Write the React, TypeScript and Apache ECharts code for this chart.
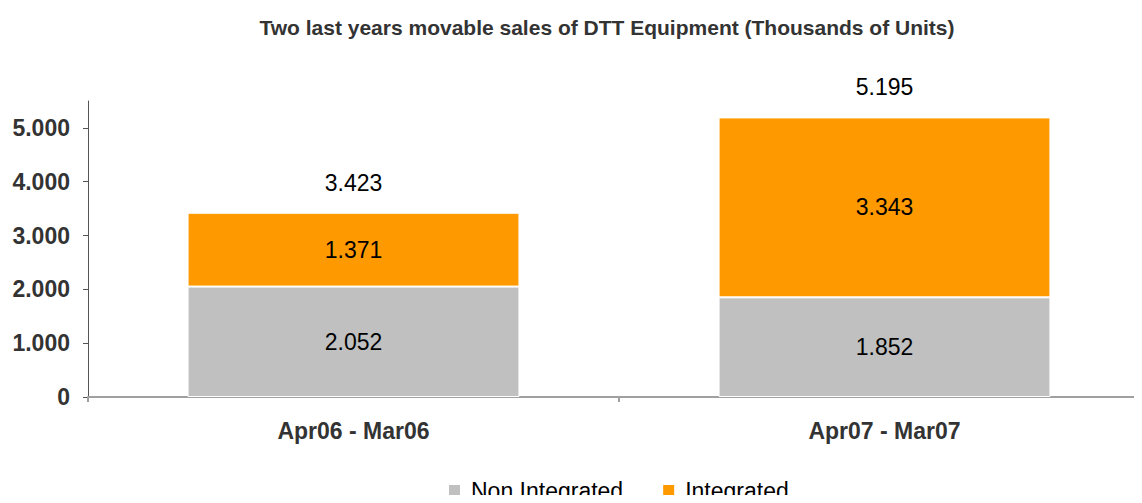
import React, { useEffect, useRef } from "react";
import * as echarts from "echarts";

const categories = ["Apr06 - Mar06", "Apr07 - Mar07"];
const nonIntegrated = [2052, 1852];
const integrated = [1371, 3343];
const totals = [3423, 5195];
const yTicks = [0, 1000, 2000, 3000, 4000, 5000];

const fmt = (v: number) =>
  String(Math.round(v)).replace(/\B(?=(\d{3})+(?!\d))/g, ".");

const FONT = "'Liberation Sans', Arial, sans-serif";

export default function App() {
  const ref = useRef<HTMLDivElement>(null);
  useEffect(() => {
    if (!ref.current) return;
    const chart = echarts.init(ref.current, undefined, { renderer: "svg" });
    chart.setOption({
      animation: false,
      backgroundColor: "#ffffff",
      title: {
        text: "Two last years movable sales of DTT Equipment (Thousands of Units)",
        left: 602,
        textAlign: "center",
        top: 12,
        textStyle: { fontFamily: FONT, fontSize: 21, fontWeight: "bold", color: "#333333" },
      },
      legend: {
        data: ["Non Integrated", "Integrated"],
        top: 474,
        left: 442,
        itemWidth: 13,
        itemHeight: 13,
        itemGap: 38,
        icon: "rect",
        textStyle: { fontFamily: FONT, fontSize: 23, color: "#000000", padding: [0, 0, 0, 5] },
      },
      grid: { left: 88, width: 1062, top: 101, bottom: 106, outerBoundsMode: "none", containLabel: false },
      xAxis: {
        type: "category",
        data: categories,
        axisLine: { lineStyle: { color: "#a0a0a0", width: 2 } },
        axisTick: { show: true, length: 5, lineStyle: { color: "#a0a0a0", width: 2 } },
        axisLabel: {
          margin: 22,
          fontFamily: FONT,
          fontSize: 23,
          fontWeight: "bold",
          color: "#333333",
        },
      },
      yAxis: {
        type: "value",
        min: 0,
        max: 5500,
        interval: 1000,
        splitLine: { show: false },
        axisLine: { show: true, lineStyle: { color: "#555555", width: 1 } },
        axisTick: { show: true, length: 5, customValues: yTicks, lineStyle: { color: "#555555" } },
        axisLabel: {
          customValues: yTicks,
          margin: 18,
          fontFamily: FONT,
          fontSize: 23,
          fontWeight: "bold",
          color: "#333333",
          formatter: (v: number) => fmt(v),
        },
      },
      series: [
        {
          name: "Non Integrated",
          type: "bar",
          stack: "s",
          data: nonIntegrated,
          barWidth: "62.5%",
          itemStyle: { color: "#c0c0c0", borderColor: "#ffffff", borderWidth: 1 },
          label: {
            show: true,
            position: "inside",
            fontFamily: FONT,
            fontSize: 23,
            color: "#000000",
            formatter: (p: any) => fmt(p.value),
          },
        },
        {
          name: "Integrated",
          type: "bar",
          stack: "s",
          data: integrated,
          barWidth: "62.5%",
          itemStyle: { color: "#ff9900", borderColor: "#ffffff", borderWidth: 1 },
          label: {
            show: true,
            position: "inside",
            fontFamily: FONT,
            fontSize: 23,
            color: "#000000",
            formatter: (p: any) => fmt(p.value),
          },
        },
        {
          name: "Total",
          type: "scatter",
          data: totals,
          symbolSize: 1,
          itemStyle: { color: "rgba(0,0,0,0)", opacity: 1 },
          label: {
            show: true,
            position: "top",
            distance: 18,
            fontFamily: FONT,
            fontSize: 23,
            color: "#000000",
            formatter: (p: any) => fmt(p.value),
          },
          tooltip: { show: false },
        },
      ],
    });
    return () => chart.dispose();
  }, []);
  return <div ref={ref} style={{ width: 1142, height: 503, margin: -8 }} />;
}
